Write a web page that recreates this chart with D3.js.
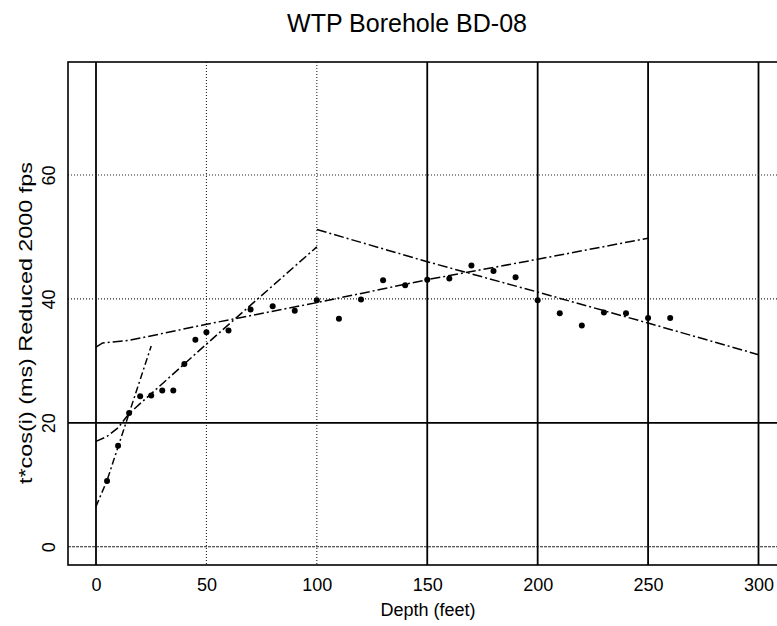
<!DOCTYPE html>
<html>
<head>
<meta charset="utf-8">
<script src="https://cdn.jsdelivr.net/npm/d3@7"></script>
<style>
  html, body { margin: 0; padding: 0; background: #fff; }
  svg { display: block; }
  text { font-family: "Liberation Sans", Arial, Helvetica, sans-serif; fill: #000; }
</style>
</head>
<body>
<svg id="chart" width="777" height="626"></svg>
<script>
// ---- data ----
const title = "WTP Borehole BD-08";
const xLabel = "Depth (feet)";
const yLabel = "t*cos(i) (ms) Reduced 2000 fps";

const xTicks = [0, 50, 100, 150, 200, 250, 300];
const yTicks = [0, 20, 40, 60];
const xSolidGrid = [0, 150, 200, 250, 300];
const xDottedGrid = [50, 100];
const ySolidGrid = [20];
const yDottedGrid = [0, 40, 60];

const depths = [5, 10, 15, 20, 25, 30, 35, 40, 45, 50, 60, 70, 80, 90, 100, 110, 120, 130, 140, 150,
                160, 170, 180, 190, 200, 210, 220, 230, 240, 250, 260];
const times  = [10.6, 16.3, 21.6, 24.3, 24.4, 25.2, 25.2, 29.5, 33.4, 34.6, 34.9, 38.3, 38.8, 38.1, 39.8, 36.8, 39.9, 43.0, 42.2, 43.1,
                43.3, 45.4, 44.5, 43.5, 39.8, 37.7, 35.7, 37.8, 37.7, 36.9, 36.9];

const fit1Depth = [0, 5, 25];
const fit1Time  = [6.5, 10.7, 32.4];
const fit2Depth = [0, 5, 10, 15, 50, 100];
const fit2Time  = [17.0, 17.8, 19.2, 21.5, 32.7, 48.4];
const fit3Depth = [0, 3, 15, 50, 100, 150, 200, 250];
const fit3Time  = [32.2, 32.9, 33.3, 35.9, 39.4, 43.1, 46.4, 49.8];
const fit4Depth = [100, 150, 200, 250, 300];
const fit4Time  = [51.2, 46.0, 41.1, 36.1, 31.0];

// ---- layout ----
const frame = { left: 68, right: 787, top: 62, bottom: 565 };
const svg = d3.select("#chart");

const x = d3.scaleLinear().domain([0, 300]).range([96, 758.5]);
const y = d3.scaleLinear().domain([0, 60]).range([546.7, 175]);

// title
svg.append("text")
  .attr("x", 407).attr("y", 32)
  .attr("text-anchor", "middle")
  .style("font-size", "25px")
  .text(title);

// grid
const grid = svg.append("g");
grid.selectAll("line.vs").data(xSolidGrid).join("line")
  .attr("x1", d => x(d)).attr("x2", d => x(d))
  .attr("y1", frame.top).attr("y2", frame.bottom)
  .attr("stroke", "#000").attr("stroke-width", 1.8);
grid.selectAll("line.vd").data(xDottedGrid).join("line")
  .attr("x1", d => x(d)).attr("x2", d => x(d))
  .attr("y1", frame.top).attr("y2", frame.bottom)
  .attr("stroke", "#222").attr("stroke-width", 1.1)
  .attr("stroke-dasharray", "1,2");
grid.selectAll("line.hs").data(ySolidGrid).join("line")
  .attr("x1", frame.left).attr("x2", frame.right)
  .attr("y1", d => y(d)).attr("y2", d => y(d))
  .attr("stroke", "#000").attr("stroke-width", 1.8);
grid.selectAll("line.hd").data(yDottedGrid).join("line")
  .attr("x1", frame.left).attr("x2", frame.right)
  .attr("y1", d => y(d)).attr("y2", d => y(d))
  .attr("stroke", "#222").attr("stroke-width", 1.1)
  .attr("stroke-dasharray", d => d === 0 ? "3,1" : "1,2");

// frame
svg.append("rect")
  .attr("x", frame.left).attr("y", frame.top)
  .attr("width", frame.right - frame.left).attr("height", frame.bottom - frame.top)
  .attr("fill", "none").attr("stroke", "#000").attr("stroke-width", 1.6);

// axes
const xAxis = svg.append("g")
  .attr("transform", `translate(0,${frame.bottom})`)
  .call(d3.axisBottom(x).tickValues(xTicks).tickSize(0).tickPadding(13).tickFormat(d3.format("d")));
xAxis.select(".domain").remove();
xAxis.selectAll("text").style("font-size", "18px").style("font-family", "'Liberation Sans', Arial, sans-serif").attr("fill", "#000");

const yAxis = svg.append("g")
  .attr("transform", `translate(${frame.left},0)`)
  .call(d3.axisLeft(y).tickValues(yTicks).tickSize(0).tickFormat(d3.format("d")));
yAxis.select(".domain").remove();
yAxis.selectAll("text")
  .attr("x", 0).attr("dy", null)
  .attr("text-anchor", "middle")
  .attr("transform", "translate(-13.5,0) rotate(-90)")
  .style("font-size", "18px").style("font-family", "'Liberation Sans', Arial, sans-serif").attr("fill", "#000");

// axis labels
svg.append("text")
  .attr("x", 428).attr("y", 616)
  .attr("text-anchor", "middle")
  .style("font-size", "18px")
  .text(xLabel);
svg.append("text")
  .attr("transform", "translate(32,323) rotate(-90)")
  .attr("text-anchor", "middle")
  .attr("textLength", 322)
  .attr("lengthAdjust", "spacingAndGlyphs")
  .style("font-size", "18px")
  .text(yLabel);

// fitted lines
const line = d3.line().x(d => x(d[0])).y(d => y(d[1]));
const fits = [
  { d: fit1Depth, t: fit1Time, dash: "7,3,2,3" },
  { d: fit2Depth, t: fit2Time, dash: "9,3,2,3" },
  { d: fit3Depth, t: fit3Time, dash: "10,3,2,3" },
  { d: fit4Depth, t: fit4Time, dash: "10,3,2,3" }
];
svg.append("g").selectAll("path").data(fits).join("path")
  .attr("d", f => line(f.d.map((v, i) => [v, f.t[i]])))
  .attr("fill", "none").attr("stroke", "#000").attr("stroke-width", 1.5)
  .attr("stroke-dasharray", f => f.dash);

// points
svg.append("g").selectAll("circle").data(depths.map((d, i) => [d, times[i]])).join("circle")
  .attr("cx", d => x(d[0])).attr("cy", d => y(d[1]))
  .attr("r", 3).attr("fill", "#000");
</script>
</body>
</html>
